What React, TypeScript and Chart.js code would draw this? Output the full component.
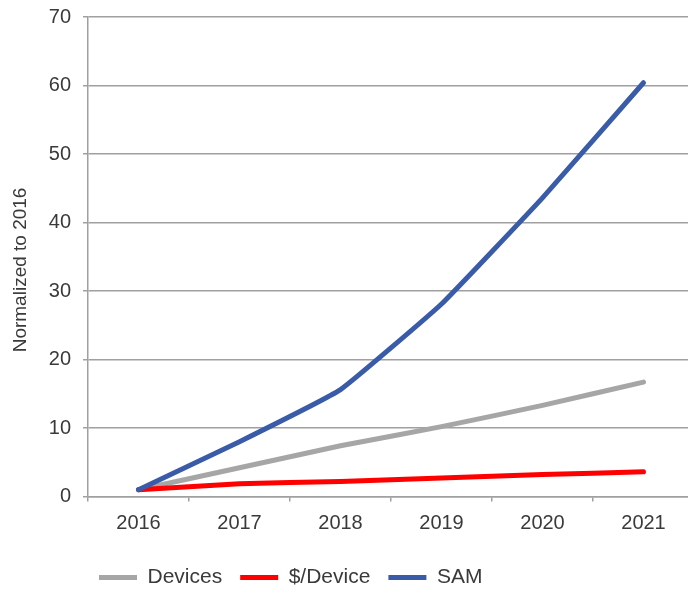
import React, { useEffect, useRef } from 'react';
import { Chart, registerables } from 'chart.js';

Chart.register(...registerables);

const years = ['2016', '2017', '2018', '2019', '2020', '2021'];
const devices = [1, 4.2, 7.4, 10.2, 13.3, 16.7];
const pricePerDevice = [1, 1.85, 2.2, 2.7, 3.2, 3.6];
const sam = [1, 8, 15.6, 28.1, 43.6, 60.4];
const yMin = 0;
const yMax = 70;
const yStep = 10;
const yTitle = 'Normalized to 2016     ';

const FONT = "'Liberation Sans', Arial, sans-serif";
const TEXT = '#3a3a3a';
const GRID = '#a0a0a0';

const legendShift = {
  id: 'legendShift',
  afterLayout(chart: any) {
    const lg = chart.legend;
    if (lg) {
      lg.left += 81;
      lg.right += 81;
    }
  },
};

export default function App() {
  const ref = useRef<HTMLCanvasElement | null>(null);

  useEffect(() => {
    if (!ref.current) return;
    const chart = new Chart(ref.current, {
      type: 'line',
      data: {
        labels: years,
        datasets: [
          {
            label: 'Devices',
            data: devices,
            borderColor: '#a6a6a6',
            backgroundColor: '#a6a6a6',
            borderWidth: 5,
            borderCapStyle: 'round',
            pointRadius: 0,
            tension: 0.1,
            order: 2,
          },
          {
            label: '$/Device',
            data: pricePerDevice,
            borderColor: '#ff0000',
            backgroundColor: '#ff0000',
            borderWidth: 5,
            borderCapStyle: 'round',
            pointRadius: 0,
            tension: 0.1,
            order: 1,
          },
          {
            label: 'SAM',
            data: sam,
            borderColor: '#3a5ca8',
            backgroundColor: '#3a5ca8',
            borderWidth: 5,
            borderCapStyle: 'round',
            pointRadius: 0,
            tension: 0.1,
            order: 0,
          },
        ],
      },
      options: {
        animation: false,
        responsive: true,
        maintainAspectRatio: false,
        layout: { padding: { top: 17, left: 0, right: 2, bottom: 0 } },
        plugins: {
          legend: {
            position: 'bottom',
            align: 'start',
            labels: {
              usePointStyle: true,
              pointStyle: 'line',
              pointStyleWidth: 38,
              boxHeight: 21,
              padding: 18,
              color: TEXT,
              font: { family: FONT, size: 21 },
              sort: (a: any, b: any) => a.datasetIndex - b.datasetIndex,
            },
          },
          tooltip: { enabled: false },
        },
        scales: {
          x: {
            offset: true,
            grid: {
              offset: true,
              drawOnChartArea: false,
              drawTicks: true,
              tickLength: 5,
              color: GRID,
              lineWidth: 1.5,
            },
            border: { display: true, color: GRID, width: 1.5 },
            ticks: {
              color: TEXT,
              padding: 10,
              font: { family: FONT, size: 20 },
              maxRotation: 0,
            },
            afterFit: (s: any) => {
              s.height = 52.5;
            },
          },
          y: {
            min: yMin,
            max: yMax,
            grid: {
              color: GRID,
              lineWidth: 1.5,
              tickLength: 5,
            },
            border: { display: true, color: GRID, width: 1.5 },
            ticks: {
              stepSize: yStep,
              color: TEXT,
              padding: 12,
              font: { family: FONT, size: 20, lineHeight: 0.5 },
            },
            title: {
              display: true,
              text: yTitle,
              color: TEXT,
              font: { family: FONT, size: 19 },
              padding: { top: 9, bottom: 0 },
            },
            afterFit: (s: any) => {
              s.width = 88;
            },
          },
        },
      },
      plugins: [legendShift],
    });
    return () => chart.destroy();
  }, []);

  return (
    <div
      style={{
        position: 'fixed',
        left: 0,
        top: 0,
        width: 688,
        height: 595,
        overflow: 'hidden',
        background: '#fff',
      }}
    >
      <div style={{ position: 'relative', width: 696, height: 598 }}>
        <canvas ref={ref} />
      </div>
    </div>
  );
}
